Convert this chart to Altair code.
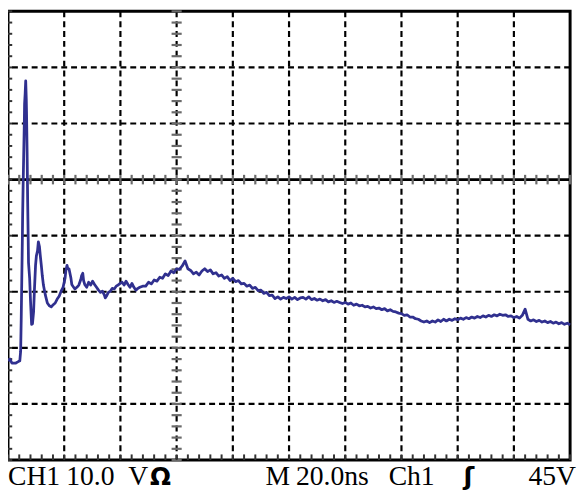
import altair as alt
import pandas as pd

# ---- trace data (time in ns, amplitude in V) ----
t_early = [0, 0.7, 1.4, 2.1, 2.8, 3.5, 4.2, 4.5, 4.7, 4.9, 5.1, 5.2, 5.4, 5.6, 5.8, 5.9, 6.1,
           6.3, 6.5, 6.6, 6.8, 7.0, 7.2, 7.3, 7.7, 8.0, 8.4, 8.7, 9.1, 9.4, 9.8, 10.1, 10.5,
           10.8, 11.2, 11.5, 11.9, 12.2, 12.6, 13.3, 14.0, 14.7, 15.4, 16.1, 16.8, 17.5, 18.2,
           18.9, 19.6, 20.3, 20.6, 21.0, 21.3, 21.7, 22.0, 22.4, 22.7, 23.1, 23.8, 24.5, 25.2,
           25.9, 26.2, 26.6, 26.9, 27.3, 28.0, 28.7, 29.4, 30.1, 30.8, 31.5, 32.2, 32.9, 33.6,
           34.3, 34.6, 35.0, 35.7, 36.4, 37.1, 37.8, 38.5, 39.2, 39.9, 40.6, 41.3, 42.0, 42.7,
           43.4, 44.1, 44.8, 45.5, 46.2, 46.9, 47.9, 49.0]
v_early = [-32.3, -32.0, -32.7, -32.7, -32.7, -32.5, -32.3, -30.6, -25.0, -18.0, -11.0, -6.6,
           -0.5, 4.8, 10.0, 13.5, 15.3, 17.6, 14.4, 11.8, 4.8, -4.0, -11.0, -14.8, -17.6, -21.5,
           -25.8, -25.7, -23.6, -19.7, -15.3, -13.6, -12.7, -11.1, -12.0, -13.6, -15.5, -17.1,
           -18.8, -20.6, -22.0, -22.5, -22.7, -22.3, -22.0, -21.3, -20.8, -19.9, -19.2, -17.6,
           -16.2, -15.3, -15.9, -15.9, -16.6, -17.6, -18.7, -19.0, -19.5, -19.2, -18.8, -17.8,
           -17.1, -16.7, -18.0, -18.7, -19.2, -18.3, -18.8, -18.1, -18.7, -19.2, -19.7, -20.1,
           -19.9, -20.6, -21.1, -20.8, -20.1, -19.9, -19.4, -19.5, -19.0, -18.8, -18.5, -18.3,
           -18.8, -18.1, -18.7, -19.2, -18.5, -19.2, -19.7, -19.4, -19.2, -19.0, -19.0]
t_late = list(range(50, 201))
v_late = [-18.3, -18.6, -17.9, -18.1, -17.4, -17.6, -16.8, -17.1, -16.3, -16.6,
          -15.9, -16.0, -15.4, -14.5, -15.9, -16.2, -16.8, -16.5, -17.0, -16.3,
          -15.9, -16.4, -16.1, -16.8, -16.6, -17.2, -17.0, -17.6, -17.3, -18.0,
          -17.6, -18.2, -18.0, -18.6, -18.5, -19.0, -18.8, -19.4, -19.2, -19.8,
          -19.7, -20.3, -20.1, -20.7, -20.6, -21.2, -20.9, -21.3, -21.0, -21.2,
          -20.9, -21.3, -21.0, -21.4, -21.1, -21.0, -21.3, -20.9, -21.4, -21.2,
          -21.5, -21.3, -21.6, -21.4, -21.8, -21.6, -21.9, -21.7, -21.9, -22.1,
          -21.9, -22.2, -22.0, -22.4, -22.2, -22.5, -22.4, -22.7, -22.6, -22.9,
          -22.7, -23.0, -22.9, -23.2, -23.0, -23.4, -23.2, -23.5, -23.6, -23.8,
          -23.9, -24.2, -24.1, -24.5, -24.5, -24.8, -24.9, -25.2, -25.4, -25.2,
          -25.5, -25.2, -25.4, -25.0, -25.3, -24.9, -25.2, -24.9, -25.1, -24.8,
          -25.0, -24.7, -24.9, -24.6, -24.8, -24.5, -24.7, -24.4, -24.6, -24.3,
          -24.5, -24.2, -24.4, -24.1, -24.3, -24.0, -24.2, -24.1, -24.4, -24.3,
          -24.6, -24.4, -24.7, -24.2, -23.1, -24.9, -25.2, -25.0, -25.3, -25.1,
          -25.4, -25.2, -25.5, -25.3, -25.6, -25.4, -25.7, -25.5, -25.8, -25.6,
          -25.9]
time_ns = t_early + t_late
volts = v_early + v_late

# ---- graticule ----
grid_t = [20, 40, 60, 80, 100, 120, 140, 160, 180]
grid_v = [-40, -30, -20, -10, 10, 20]
center_v = [0]
center_t = 60
minor_t = list(range(0, 201, 4))
minor_v = list(range(-50, 31, 2))

# ---- status line texts ----
labels_left = ["CH1", "10.0", "V"]
omega = "Ω"
labels_right = ["M", "20.0ns", "Ch1"]
edge_sym = "ʃ"
trig_level = "45V"

xs = alt.Scale(domain=[0, 200], nice=False, zero=False)
ys = alt.Scale(domain=[-50, 30], nice=False, zero=False)

trace_df = pd.DataFrame({"t": time_ns, "v": volts})
gt_df = pd.DataFrame({"t": grid_t})
gv_df = pd.DataFrame({"v": grid_v})
c_df = pd.DataFrame({"v": center_v})
mt_df = pd.DataFrame({"t": minor_t})
mv_df = pd.DataFrame({"v": minor_v})

TICK = "#6a6a6a"

vgrid = alt.Chart(gt_df).mark_rule(color="black", strokeWidth=2.2, strokeDash=[6, 4]).encode(
    x=alt.X("t:Q", scale=xs, axis=None))
hgrid = alt.Chart(gv_df).mark_rule(color="black", strokeWidth=2.2, strokeDash=[6, 4]).encode(
    y=alt.Y("v:Q", scale=ys, axis=None))
zero_line = alt.Chart(c_df).mark_rule(color="black", strokeWidth=3).encode(
    y=alt.Y("v:Q", scale=ys, axis=None))

zero_ticks = alt.Chart(mt_df).mark_rule(color=TICK, strokeWidth=2.2).encode(
    x=alt.X("t:Q", scale=xs, axis=None),
    y=alt.YDatum(-0.85, scale=ys, axis=None), y2=alt.Y2Datum(0.85))
col_ticks = alt.Chart(mv_df).mark_rule(color=TICK, strokeWidth=2.2).encode(
    y=alt.Y("v:Q", scale=ys, axis=None),
    x=alt.XDatum(center_t - 1.8, scale=xs, axis=None), x2=alt.X2Datum(center_t + 1.8))
left_ticks = alt.Chart(mv_df).mark_rule(color="#333333", strokeWidth=2).encode(
    y=alt.Y("v:Q", scale=ys, axis=None),
    x=alt.XDatum(0, scale=xs, axis=None), x2=alt.X2Datum(1.5))
bottom_ticks = alt.Chart(mt_df).mark_rule(color="#333333", strokeWidth=2).encode(
    x=alt.X("t:Q", scale=xs, axis=None),
    y=alt.YDatum(-50, scale=ys, axis=None), y2=alt.Y2Datum(-49.0))

trace = alt.Chart(trace_df).mark_line(color="#30308f", strokeWidth=2.8, strokeJoin="round").encode(
    x=alt.X("t:Q", scale=xs, axis=None),
    y=alt.Y("v:Q", scale=ys, axis=None))

one = alt.Data(values=[{}])
BASE = 480


def label(txt, x, font="Liberation Serif", weight="normal", align="left", size=28):
    return alt.Chart(one).mark_text(
        text=txt, font=font, fontSize=size, fontWeight=weight, align=align,
        baseline="alphabetic", color="black").encode(
        x=alt.value(x), y=alt.value(BASE))


texts = [
    label(labels_left[0], 0),
    label(labels_left[1], 59),
    label(labels_left[2], 122),
    label(omega, 144, font="DejaVu Sans", weight="bold", size=25),
    label(labels_right[0], 261),
    label(labels_right[1], 292),
    label(labels_right[2], 386),
    label(edge_sym, 462, font="DejaVu Sans", weight="bold", size=26),
    label(trig_level, 576, align="right"),
]

chart = alt.layer(
    vgrid, hgrid, zero_line, zero_ticks, col_ticks, left_ticks, bottom_ticks, trace, *texts
).properties(
    width=570, height=455,
    autosize=alt.AutoSizeParams(type="none"),
    padding={"left": 0, "top": 0, "right": 7, "bottom": 28},
    background="white",
).configure_view(stroke="black", strokeWidth=3)

chart.save("out.html", embed_options={"renderer": "svg", "actions": False})
